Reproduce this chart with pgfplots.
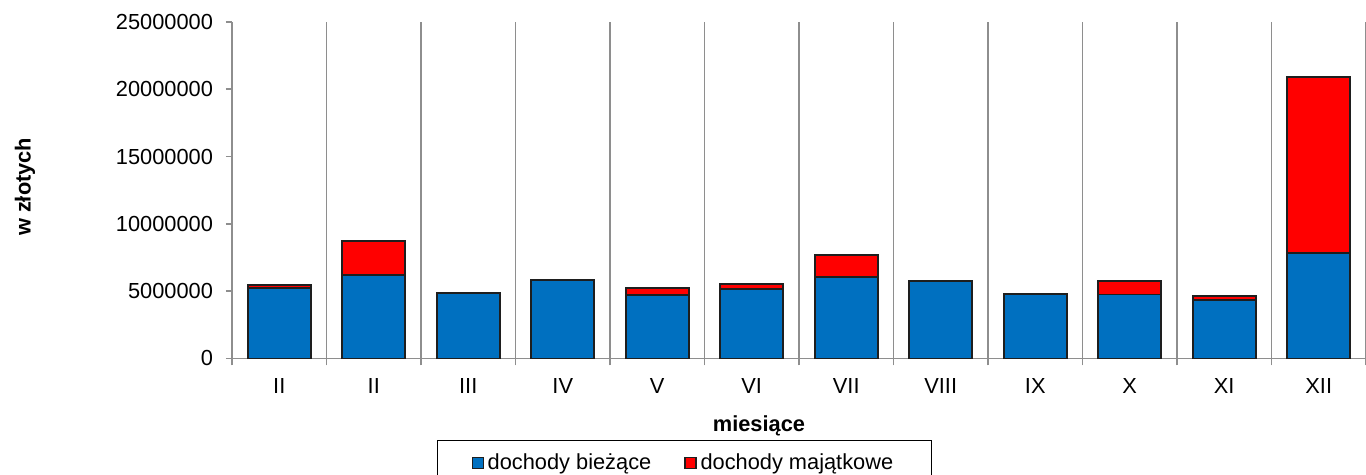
\documentclass[border=0pt]{standalone}
\usepackage{fontspec}
\setmainfont{Liberation Sans}
\usepackage{pgfplots}
\pgfplotsset{compat=1.18}
\definecolor{cblue}{HTML}{0070C0}
\definecolor{cred}{HTML}{FF0000}
\definecolor{gridgray}{HTML}{8E8E8E}
\definecolor{outl}{HTML}{1E1E1E}
\begin{document}
\begin{tikzpicture}[font=\fontsize{10.9}{13}\selectfont]
\begin{axis}[
  width=567pt, height=168.25pt, scale only axis,
  ybar stacked, bar width=31.5pt,
  xmin=-0.5, xmax=11.5, ymin=0, ymax=25000000,
  axis x line*=bottom, axis y line*=left,
  axis line style={draw=gridgray, line width=0.9pt, -},
  xtick={0,...,11},
  xticklabels={II,II,III,IV,V,VI,VII,VIII,IX,X,XI,XII},
  minor xtick={-0.5,0.5,...,11.5},
  xminorgrids,
  minor grid style={draw=gridgray, line width=0.9pt},
  minor x tick style={draw=gridgray, line width=0.9pt},
  major x tick style={draw=none},
  tick align=outside,
  minor tick length=3.5pt, major tick length=3pt,
  y tick style={draw=gridgray, line width=0.9pt},
  ytick={0,5000000,10000000,15000000,20000000,25000000},
  scaled y ticks=false,
  yticklabel style={/pgf/number format/fixed, /pgf/number format/1000 sep={}, /pgf/number format/assume math mode=true, xshift=-3pt},
  xticklabel style={yshift=-3.5pt},
  xlabel={\bfseries miesiące},
  ylabel={\bfseries w złotych},
  xlabel style={at={(axis description cs:0.4647,-0.2006)}, anchor=center},
  ylabel style={at={(axis description cs:-0.1825,0.51)}, anchor=center},
  legend columns=2,
  legend style={at={(axis description cs:0.1808,-0.2422)}, anchor=north west, draw=black, line width=0.5pt, font=\fontsize{10.9}{13}\selectfont, inner xsep=17pt, inner ysep=4.5pt, /tikz/every even column/.append style={column sep=14.5pt}},
  legend image code/.code={\draw[#1, line width=0.6pt] (0pt,-2.75pt) rectangle (5.5pt,2.75pt);},
  every axis plot/.append style={draw=outl, line width=0.9pt},
]
\addplot[fill=cblue] coordinates {(0,5250000) (1,6220000) (2,4880000) (3,5850000) (4,4730000) (5,5180000) (6,6050000) (7,5770000) (8,4790000) (9,4760000) (10,4320000) (11,7830000)};
\addplot[fill=cred] coordinates {(0,220000) (1,2520000) (2,0) (3,0) (4,480000) (5,350000) (6,1630000) (7,0) (8,0) (9,970000) (10,320000) (11,13070000)};
\legend{dochody bieżące, dochody majątkowe}
\end{axis}
\pgfresetboundingbox
\path[use as bounding box] ([xshift=-116pt,yshift=-58.25pt]current axis.south west) rectangle ([yshift=11pt]current axis.north east);
\end{tikzpicture}
\end{document}
